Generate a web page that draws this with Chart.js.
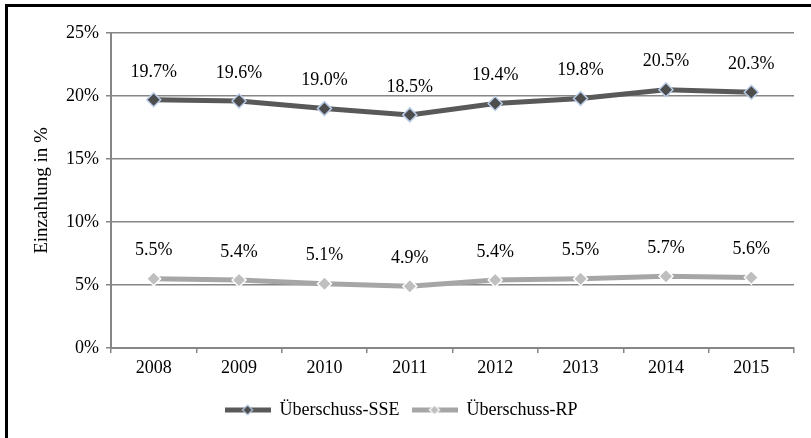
<!DOCTYPE html>
<html>
<head>
<meta charset="utf-8">
<script src="https://cdn.jsdelivr.net/npm/chart.js@4.4.1/dist/chart.umd.min.js"></script>
<style>
  html, body { margin: 0; padding: 0; background: #fff; }
  #wrap { position: relative; width: 811px; height: 438px; overflow: hidden; }
  #frame { position: absolute; left: 5px; top: 4px; width: 820px; height: 450px;
           border-top: 3px solid #000; border-left: 3px solid #000; }
  #c { position: absolute; left: 0; top: 0; }
</style>
</head>
<body>
<div id="wrap">
  <div id="frame"></div>
  <canvas id="c" width="811" height="438"></canvas>
</div>
<script>
/* chart values */
const years = ['2008', '2009', '2010', '2011', '2012', '2013', '2014', '2015'];
const sseValues = [19.7, 19.6, 19.0, 18.5, 19.4, 19.8, 20.5, 20.3];
const rpValues  = [5.5, 5.4, 5.1, 4.9, 5.4, 5.5, 5.7, 5.6];
const seriesNames = ['Überschuss-SSE', 'Überschuss-RP'];
const yTicks = [0, 5, 10, 15, 20, 25];
const yTitle = 'Einzahlung in %';

const FONT = "'Liberation Serif', 'Times New Roman', serif";

const style = {
    sse: { line: '#595959', fill: '#4d4d4d', edge: '#b9cde9' },
    rp:  { line: '#a6a6a6', fill: '#bfbfbf', edge: '#ffffff' },
    grid: '#868686'
};

// little line+diamond swatch used as the legend marker
function legendSwatch(s) {
    const cv = document.createElement('canvas');
    cv.width = 46; cv.height = 12;
    const g = cv.getContext('2d');
    g.strokeStyle = s.line;
    g.lineWidth = 5;
    g.beginPath(); g.moveTo(0, 6); g.lineTo(46, 6); g.stroke();
    g.fillStyle = s.fill;
    g.strokeStyle = s.edge;
    g.lineWidth = 1.2;
    g.beginPath();
    g.moveTo(23 - 5, 6); g.lineTo(23, 1); g.lineTo(23 + 5, 6); g.lineTo(23, 11);
    g.closePath(); g.fill(); g.stroke();
    return cv;
}

// value labels above each point
const valueLabels = {
    id: 'valueLabels',
    afterDatasetsDraw(chart) {
        const ctx = chart.ctx;
        ctx.save();
        ctx.font = '18px ' + FONT;
        ctx.fillStyle = '#000';
        ctx.textAlign = 'center';
        ctx.textBaseline = 'middle';
        chart.data.datasets.forEach((ds, i) => {
            chart.getDatasetMeta(i).data.forEach((pt, j) => {
                ctx.fillText(ds.data[j].toFixed(1) + '%', pt.x, pt.y - 28);
            });
        });
        ctx.restore();
    }
};

const datasets = [
    { label: seriesNames[0], data: sseValues, s: style.sse },
    { label: seriesNames[1], data: rpValues,  s: style.rp }
].map(d => ({
    label: d.label,
    data: d.data,
    borderColor: d.s.line,
    borderWidth: 5,
    pointStyle: 'rectRot',
    pointRadius: 7,
    pointHoverRadius: 7,
    pointBackgroundColor: d.s.fill,
    pointBorderColor: d.s.edge,
    pointBorderWidth: 1.5,
    tension: 0,
    swatch: legendSwatch(d.s)
}));

new Chart(document.getElementById('c'), {
    type: 'line',
    data: { labels: years, datasets },
    options: {
        responsive: false,
        animation: false,
        layout: { padding: { left: 8, top: 33, right: 17, bottom: 9 } },
        plugins: {
            tooltip: { enabled: false },
            legend: {
                position: 'bottom',
                labels: {
                    color: '#000',
                    font: { family: FONT, size: 18 },
                    usePointStyle: true,
                    pointStyleWidth: 46,
                    boxHeight: 12,
                    padding: 12,
                    generateLabels(chart) {
                        return chart.data.datasets.map((ds, i) => ({
                            text: ds.label,
                            pointStyle: ds.swatch,
                            fillStyle: ds.borderColor,
                            strokeStyle: ds.borderColor,
                            lineWidth: 0,
                            fontColor: '#000',
                            datasetIndex: i
                        }));
                    }
                }
            }
        },
        scales: {
            x: {
                offset: true,
                grid: { offset: true, drawOnChartArea: false, drawTicks: true, tickLength: 5,
                        color: style.grid, lineWidth: 1.5 },
                border: { color: style.grid, width: 2 },
                ticks: { color: '#000', font: { family: FONT, size: 18 }, padding: 4 },
                afterFit(scale) { scale.height = 41; }
            },
            y: {
                min: 0,
                max: 25,
                afterBuildTicks(scale) { scale.ticks = yTicks.map(v => ({ value: v })); },
                grid: { color: style.grid, lineWidth: 1.5, tickLength: 5 },
                border: { color: style.grid, width: 2 },
                ticks: { color: '#000', font: { family: FONT, size: 18 }, padding: 7,
                         callback: v => v + '%' },
                title: { display: true, text: yTitle, color: '#000',
                         font: { family: FONT, size: 19 }, padding: { top: 23, bottom: 0 } },
                afterFit(scale) { scale.width = 103; }
            }
        }
    },
    plugins: [valueLabels]
});
</script>
</body>
</html>
